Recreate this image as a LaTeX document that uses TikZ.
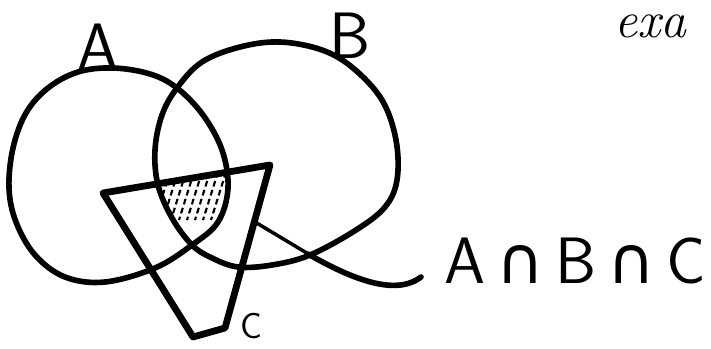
\documentclass[tikz,border=0pt]{standalone}
\usepackage{fontspec}
\newfontfamily\capfont{DejaVu Sans}
\usepackage{tikz}
\usetikzlibrary{positioning}

\begin{document}
\begin{tikzpicture}[x=0.03cm, y=-0.03cm,
    ring/.style={line width=4.8pt, line join=round, line cap=round},
    wedge/.style={line width=5.8pt, line join=round},
    hatch/.style={line width=1.8pt, dash pattern=on 5pt off 3pt},
    letter/.style={font=\sffamily\fontsize{56}{56}\selectfont, inner sep=0pt},
    outlineA/.style={insert path={plot[smooth cycle, tension=0.6] coordinates {
        (113,68) (150,74) (177,88) (203,115) (222,150) (228,188) (218,222)
        (192,245) (155,268) (105,282) (65,277) (35,255) (16,222) (9,188)
        (13,148) (26,113) (48,88) (78,72)}}},
    outlineB/.style={insert path={plot[smooth cycle, tension=0.6] coordinates {
        (280,42) (322,50) (353,68) (382,100) (396,140) (397,180) (385,207)
        (356,230) (310,255) (272,265) (238,267) (212,258) (192,245) (172,218)
        (158,185) (155,150) (162,115) (177,88) (202,62) (240,47)}}}]
    \path[use as bounding box, clip] (0,0) rectangle (711,349);

    % the three sets
    \draw[ring, outlineA];
    \draw[ring, outlineB];
    \draw[wedge] (103,193) -- (270,165) -- (225,328) -- (193,337) -- cycle;

    % shaded part A n B n C
    \begin{scope}
        \clip[outlineA];
        \clip[outlineB];
        \clip (103,193) -- (270,165) -- (225,328) -- (193,337) -- cycle;
        \foreach \x in {162,170,...,262}
            \draw[hatch] (\x,172) -- ++(-15,48);
    \end{scope}

    % labels
    \node[letter] (labA) at (98,47) {A};
    \node[letter] (labB) at (350,36) {B};
    \node[font=\sffamily\fontsize{31}{31}\selectfont, inner sep=0pt] (labC) at (251,326) {C};
    \node[letter] (lbl) at (575,261) {A\,{\capfont ∩}\,B\,{\capfont ∩}\,C};
    \node[font=\itshape\fontsize{44}{44}\selectfont, anchor=base west, inner sep=0pt] (note) at (614,38) {exa};

    % pointer to the shaded part
    \coordinate (tailstart) at (255,222);
    \coordinate (tailend) at (421,277);
    \draw[line width=3pt] (tailstart) -- (310,255);
    \draw[ring] (308,254) .. controls (350,278) and (395,297) .. (tailend);
\end{tikzpicture}
\end{document}
